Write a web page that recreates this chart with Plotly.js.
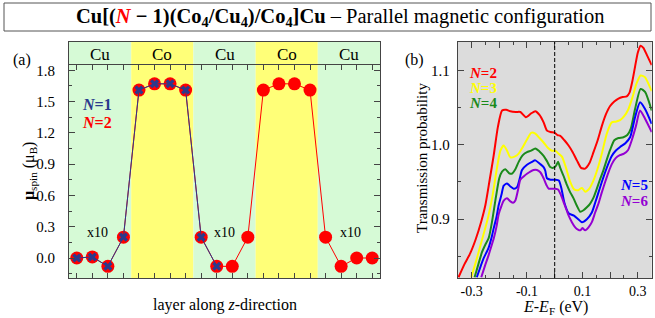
<!DOCTYPE html>
<html><head><meta charset="utf-8">
<script src="https://cdn.plot.ly/plotly-3.0.1.min.js"></script>
<style>body{margin:0;padding:0;background:#fff}#plot{width:655px;height:318px}</style>
</head><body><div id="plot"></div>
<script>
// ---- data: panel (a) ----
const layers = [0,1,2,3,4,5,6,7,8,9,10,11,12,13,14,15,16,17,18,19];
const muN2 = [0.0,0.01,-0.08,0.2,1.61,1.67,1.67,1.61,0.2,-0.08,-0.08,0.2,1.61,1.67,1.67,1.61,0.2,-0.08,0.0,0.0];
const layersN1 = [0,1,2,3,4,5,6,7,8,9];
const muN1 = [0.0,0.01,-0.08,0.2,1.61,1.67,1.67,1.61,0.2,-0.08];
const bandLabels = ['Cu','Co','Cu','Co','Cu'];
const bandCenters = [1.5,5.5,9.5,13.5,17.5];
const x10Pos = [1.35,9.5,17.6];
const x10Val = 0.24;
const yTicksA = [0,0.3,0.6,0.9,1.2,1.5,1.8];
const yMinorA = [-0.15,0.15,0.45,0.75,1.05,1.35,1.65];

// ---- data: panel (b) ----
const eN2 = [-0.347,-0.325,-0.305,-0.285,-0.265,-0.25,-0.235,-0.22,-0.205,-0.19,-0.175,-0.16,-0.14,-0.124,-0.104,-0.085,-0.07,-0.055,-0.04,-0.028,-0.015,0.0,0.01,0.02,0.035,0.05,0.065,0.08,0.095,0.11,0.125,0.14,0.155,0.17,0.185,0.2,0.215,0.23,0.245,0.26,0.27,0.28,0.29,0.3,0.31,0.32,0.332,0.35];
const tN2 = [0.822,0.840,0.854,0.873,0.897,0.919,0.952,0.986,1.024,1.046,1.047,1.045,1.044,1.044,1.037,1.042,1.045,1.040,1.030,1.019,1.017,1.016,1.013,1.012,1.006,0.999,0.990,0.979,0.969,0.968,0.975,0.990,1.006,1.025,1.041,1.052,1.058,1.062,1.064,1.065,1.070,1.085,1.105,1.124,1.133,1.130,1.121,1.107];
const eN3 = [-0.301,-0.285,-0.27,-0.255,-0.24,-0.225,-0.21,-0.196,-0.184,-0.172,-0.16,-0.145,-0.13,-0.115,-0.1,-0.085,-0.07,-0.055,-0.04,-0.025,-0.01,0.002,0.014,0.026,0.04,0.056,0.07,0.085,0.098,0.11,0.125,0.14,0.155,0.17,0.188,0.206,0.22,0.236,0.25,0.265,0.28,0.295,0.31,0.325,0.35];
const tN3 = [0.822,0.842,0.862,0.882,0.903,0.930,0.965,0.992,0.999,0.992,0.983,0.984,0.988,0.997,1.007,1.016,1.015,1.009,1.003,0.996,0.992,0.992,0.988,0.984,0.970,0.950,0.940,0.939,0.942,0.937,0.941,0.952,0.968,0.988,1.015,1.030,1.031,1.033,1.038,1.047,1.063,1.082,1.093,1.091,1.072];
const eN4 = [-0.289,-0.275,-0.262,-0.25,-0.238,-0.226,-0.212,-0.2,-0.19,-0.178,-0.165,-0.155,-0.142,-0.13,-0.115,-0.1,-0.085,-0.07,-0.055,-0.04,-0.028,-0.016,-0.005,0.005,0.012,0.02,0.032,0.044,0.056,0.068,0.08,0.092,0.104,0.116,0.128,0.14,0.152,0.164,0.176,0.188,0.2,0.215,0.23,0.248,0.262,0.275,0.29,0.31,0.326,0.35];
const tN4 = [0.822,0.840,0.856,0.866,0.875,0.897,0.930,0.955,0.964,0.967,0.962,0.961,0.967,0.977,0.986,0.990,0.992,0.995,0.991,0.985,0.978,0.970,0.969,0.972,0.977,0.969,0.958,0.946,0.936,0.928,0.918,0.910,0.912,0.916,0.921,0.929,0.941,0.954,0.966,0.980,0.993,1.006,1.009,1.010,1.013,1.022,1.048,1.075,1.071,1.046];
const eN5 = [-0.281,-0.268,-0.257,-0.248,-0.239,-0.228,-0.22,-0.21,-0.202,-0.192,-0.184,-0.172,-0.16,-0.148,-0.136,-0.126,-0.118,-0.1,-0.082,-0.07,-0.052,-0.04,-0.034,-0.028,-0.015,0.002,0.015,0.025,0.035,0.05,0.068,0.085,0.098,0.116,0.134,0.146,0.158,0.17,0.182,0.194,0.206,0.22,0.236,0.255,0.272,0.29,0.308,0.326,0.35];
const tN5 = [0.822,0.836,0.847,0.854,0.861,0.875,0.888,0.903,0.919,0.933,0.945,0.948,0.944,0.941,0.943,0.955,0.966,0.973,0.977,0.979,0.974,0.970,0.965,0.955,0.953,0.953,0.952,0.940,0.922,0.908,0.905,0.900,0.896,0.900,0.909,0.922,0.936,0.950,0.963,0.975,0.985,0.992,0.997,1.002,1.010,1.037,1.057,1.048,1.028];
const eN6 = [-0.265,-0.252,-0.239,-0.23,-0.22,-0.21,-0.202,-0.192,-0.184,-0.172,-0.16,-0.15,-0.142,-0.132,-0.124,-0.11,-0.1,-0.088,-0.076,-0.064,-0.052,-0.04,-0.03,-0.022,-0.01,0.002,0.012,0.022,0.032,0.042,0.05,0.062,0.074,0.084,0.092,0.1,0.11,0.122,0.134,0.146,0.158,0.17,0.182,0.194,0.206,0.22,0.235,0.25,0.265,0.278,0.293,0.308,0.326,0.35];
const tN6 = [0.822,0.837,0.851,0.862,0.874,0.890,0.907,0.918,0.925,0.928,0.924,0.922,0.925,0.940,0.953,0.958,0.961,0.964,0.966,0.966,0.963,0.955,0.946,0.941,0.941,0.941,0.940,0.933,0.923,0.913,0.905,0.896,0.889,0.886,0.885,0.888,0.885,0.889,0.896,0.909,0.921,0.936,0.950,0.963,0.974,0.982,0.986,0.988,0.993,1.006,1.025,1.046,1.035,1.017];
const xTickValsB = [-0.3,-0.2,-0.1,0,0.1,0.2,0.3];
const xTickTextB = ['-0.3','','-0.1','','0.1','','0.3'];

// ---- layout helpers (pixel -> paper) ----
const W = 655, H = 318, MT = 42, MB = 40;
const PH = H - MT - MB;
const px = v => v / W;
const py = v => (H - MB - v) / PH;
const FONT = 'Liberation Serif, Times New Roman, serif';
const AX = '#444';
const cGreen = '#d6fad6', cYellow = '#ffff78';

const traces = [
  {x: layers, y: muN2, xaxis:'x', yaxis:'y', mode:'lines+markers',
   line:{color:'#ff0000', width:1}, marker:{color:'#ff0000', size:13}, hoverinfo:'skip'},
  {x: layersN1, y: muN1, xaxis:'x', yaxis:'y', mode:'lines+markers',
   line:{color:'#2b3a8c', width:1}, marker:{color:'#2b3a8c', size:8, symbol:'x'}, hoverinfo:'skip'},
  {x: layers, y: muN2, xaxis:'x2', yaxis:'y', mode:'markers', marker:{opacity:0}, hoverinfo:'skip'},
  {x: eN2, y: tN2, xaxis:'x3', yaxis:'y3', mode:'lines', line:{color:'#ff0000', width:2, shape:'spline', smoothing:0.6}, hoverinfo:'skip'},
  {x: eN3, y: tN3, xaxis:'x3', yaxis:'y3', mode:'lines', line:{color:'#ffff00', width:2, shape:'spline', smoothing:0.6}, hoverinfo:'skip'},
  {x: eN4, y: tN4, xaxis:'x3', yaxis:'y3', mode:'lines', line:{color:'#1a8a1a', width:2, shape:'spline', smoothing:0.6}, hoverinfo:'skip'},
  {x: eN5, y: tN5, xaxis:'x3', yaxis:'y3', mode:'lines', line:{color:'#0000ff', width:2, shape:'spline', smoothing:0.6}, hoverinfo:'skip'},
  {x: eN6, y: tN6, xaxis:'x3', yaxis:'y3', mode:'lines', line:{color:'#9400d3', width:2, shape:'spline', smoothing:0.6}, hoverinfo:'skip'}
];

const shapes = [];
const bandEdges = [-0.5,3.5,7.5,11.5,15.5,19.5];
for (let i = 0; i < 5; i++) {
  shapes.push({type:'rect', xref:'x', yref:'paper', x0:bandEdges[i], x1:bandEdges[i+1], y0:0, y1:1,
    fillcolor: bandLabels[i]==='Cu' ? cGreen : cYellow, line:{width:0}, layer:'below'});
}
shapes.push({type:'rect', xref:'x3 domain', yref:'y3 domain', x0:0, x1:1, y0:0, y1:1, fillcolor:'#dcdcdc', line:{width:0}, layer:'below'});
shapes.push({type:'line', xref:'x3', yref:'paper', x0:0, x1:0, y0:0, y1:1, line:{color:'#000', width:1, dash:'4px,2px'}});
shapes.push({type:'rect', xref:'paper', yref:'paper', x0:px(4), x1:px(651), y0:py(31), y1:py(3), line:{color:'#555', width:1}, fillcolor:'rgba(0,0,0,0)'});

const ann = [];
ann.push({xref:'paper', yref:'paper', x:px(340), y:py(17), xanchor:'center', yanchor:'middle', showarrow:false,
  text:'<b>Cu[(<i><span style="color:#ff0000">N</span></i> − 1)(Co<sub>4</sub>/Cu<sub>4</sub>)/Co<sub>4</sub>]Cu</b> – Parallel magnetic configuration',
  font:{family:FONT, size:20.5, color:'#000'}});
ann.push({xref:'paper', yref:'paper', x:px(22), y:py(60), xanchor:'center', yanchor:'middle', showarrow:false, text:'(a)', font:{family:FONT, size:16}});
ann.push({xref:'paper', yref:'paper', x:px(414), y:py(60), xanchor:'center', yanchor:'middle', showarrow:false, text:'(b)', font:{family:FONT, size:16}});
for (let i = 0; i < bandLabels.length; i++) {
  ann.push({xref:'x', yref:'paper', x:bandCenters[i], y:py(55), xanchor:'center', yanchor:'middle', showarrow:false, text:bandLabels[i], font:{family:FONT, size:17}});
}
for (const xp of x10Pos) {
  ann.push({xref:'x', yref:'y', x:xp, y:x10Val, xanchor:'center', yanchor:'middle', showarrow:false, text:'x10', font:{family:FONT, size:14}});
}
ann.push({xref:'paper', yref:'paper', x:px(80), y:py(104), xanchor:'left', yanchor:'middle', showarrow:false, text:'<b><i>N</i>=1</b>', font:{family:FONT, size:16, color:'#2b3a8c'}});
ann.push({xref:'paper', yref:'paper', x:px(80), y:py(122), xanchor:'left', yanchor:'middle', showarrow:false, text:'<b><i>N</i>=2</b>', font:{family:FONT, size:16, color:'#ff0000'}});
const legB = [['N=2','#ff0000',467,73],['N=3','#ffff00',467,88],['N=4','#1a8a1a',467,103],['N=5','#0000ff',618,185],['N=6','#9400d3',618,201]];
for (const [t,c,x,y] of legB) {
  ann.push({xref:'paper', yref:'paper', x:px(x), y:py(y), xanchor:'left', yanchor:'middle', showarrow:false,
    text:'<b><i>N</i>' + t.slice(1) + '</b>', font:{family:FONT, size:15, color:c}});
}
ann.push({xref:'paper', yref:'paper', x:px(29), y:py(171), xanchor:'center', yanchor:'middle', textangle:-90, showarrow:false,
  text:'<b>μ</b><sub>spin</sub> (μ<sub>B</sub>)', font:{family:FONT, size:16}});
ann.push({xref:'paper', yref:'paper', x:px(422), y:py(158), xanchor:'center', yanchor:'middle', textangle:-90, showarrow:false,
  text:'Transmission probability', font:{family:FONT, size:15}});
ann.push({xref:'paper', yref:'paper', x:px(224.5), y:py(305), xanchor:'center', yanchor:'middle', showarrow:false,
  text:'layer along <i>z</i>-direction', font:{family:FONT, size:16}});
ann.push({xref:'paper', yref:'paper', x:px(555), y:py(307), xanchor:'center', yanchor:'middle', showarrow:false,
  text:'<i>E</i>-<i>E</i><sub>F</sub> (eV)', font:{family:FONT, size:16}});

const yA0 = -(278-258)/104.3, yA1 = (258-42)/104.3;

const layout = {
  width: W, height: H, margin:{l:0, r:0, t:MT, b:MB},
  paper_bgcolor:'#fff', plot_bgcolor:'rgba(0,0,0,0)', showlegend:false,
  font:{family:FONT, size:15, color:'#000'},
  xaxis:{domain:[px(69), px(380)], range:[-0.5,19.5], tickvals:layers, ticks:'inside', ticklen:5, tickcolor:AX,
    showticklabels:false, showgrid:false, zeroline:false, showline:true, linecolor:AX, mirror:true, fixedrange:true},
  xaxis2:{overlaying:'x', anchor:'free', position:py(64), side:'top', range:[-0.5,19.5], tickvals:layers, ticks:'inside', ticklen:5, tickcolor:AX,
    showticklabels:false, showgrid:false, zeroline:false, showline:true, linecolor:AX},
  yaxis:{domain:[0,1], anchor:'x', range:[yA0, yA1], tickvals:yTicksA, ticktext:yTicksA.map(v=>v.toFixed(1)), ticks:'inside', ticklen:6, tickcolor:AX,
    ticklabelstandoff:10,
    minor:{tickvals:yMinorA, ticks:'inside', ticklen:3, tickcolor:AX}, showgrid:false, zeroline:false, showline:true, linecolor:AX, mirror:'ticks',
    tickfont:{family:FONT, size:15}},
  xaxis3:{domain:[px(457.7), px(651.7)], anchor:'y3', range:[-0.35,0.35], tickvals:xTickValsB, ticktext:xTickTextB, ticks:'inside', ticklen:6, tickcolor:AX,
    minor:{dtick:0.05, tick0:0, ticks:'inside', ticklen:3, tickcolor:AX}, showgrid:false, zeroline:false, showline:true, linecolor:AX, mirror:'ticks',
    tickfont:{family:FONT, size:14}},
  yaxis3:{domain:[0,1], anchor:'x3', range:[0.821,1.138], tickvals:[0.9,1.0,1.1], ticktext:['0.9','1.0','1.1'], ticks:'inside', ticklen:6, tickcolor:AX,
    ticklabelstandoff:4,
    minor:{dtick:0.05, tick0:0, ticks:'inside', ticklen:3, tickcolor:AX}, showgrid:false, zeroline:false, showline:true, linecolor:AX, mirror:'ticks',
    tickfont:{family:FONT, size:15}},
  shapes: shapes,
  annotations: ann
};

Plotly.newPlot('plot', traces, layout, {staticPlot:true, displayModeBar:false});
</script></body></html>
